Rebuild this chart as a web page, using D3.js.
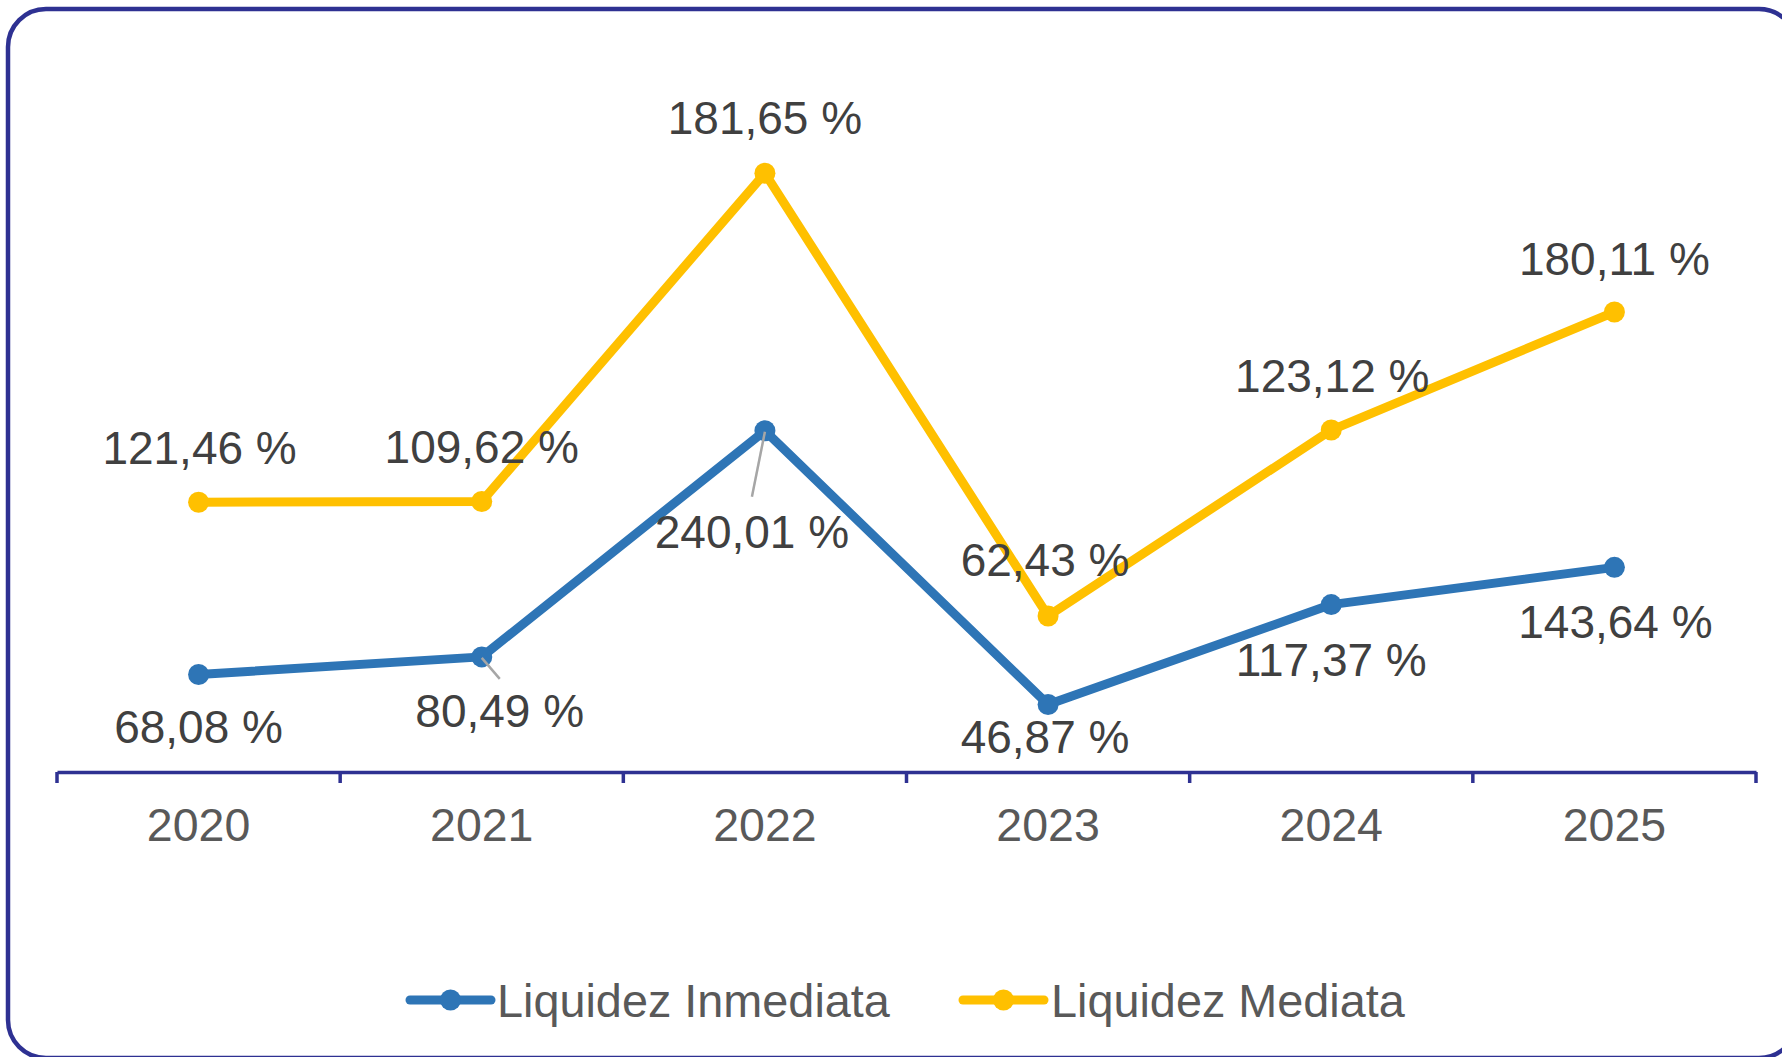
<!DOCTYPE html>
<html>
<head>
<meta charset="utf-8">
<script src="https://cdn.jsdelivr.net/npm/d3@7"></script>
<style>
  html, body { margin: 0; padding: 0; background: #ffffff; }
  svg { display: block; }
  text { font-family: "Liberation Sans", Arial, sans-serif; }
</style>
</head>
<body>
<svg id="chart" width="1782" height="1057"></svg>
<script>
// ---- data ----
const years = ["2020", "2021", "2022", "2023", "2024", "2025"];
const seriesNames = ["Liquidez Inmediata", "Liquidez Mediata"];
const inmediata = [68.08, 80.49, 240.01, 46.87, 117.37, 143.64];
const mediata = [121.46, 109.62, 181.65, 62.43, 123.12, 180.11];
const inmediataLabels = ["68,08 %", "80,49 %", "240,01 %", "46,87 %", "117,37 %", "143,64 %"];
const mediataLabels = ["121,46 %", "109,62 %", "181,65 %", "62,43 %", "123,12 %", "180,11 %"];
const yMax = 450;

// ---- layout (label offsets relative to point, in px) ----
const inmLabelOffsets = [[0, 53], [18, 54], [-13, 101], [-3, 32], [0, 55], [1, 55]];
const medLabelOffsets = [[1, -54], [0, -54], [0, -55], [-3, -56], [1, -54], [0, -53]];
const leaderIdx = [1, 2];

const colors = ["#2E75B6", "#FFC000"];
const frameColor = "#2E3192";

const svg = d3.select("#chart");

// frame
svg.append("rect")
  .attr("x", 8).attr("y", 9)
  .attr("width", 1789).attr("height", 1049)
  .attr("rx", 38).attr("ry", 38)
  .attr("fill", "#ffffff")
  .attr("stroke", frameColor)
  .attr("stroke-width", 4.5);

const x = d3.scaleBand().domain(years).range([57, 1756]).paddingInner(0).paddingOuter(0);
const y = d3.scaleLinear().domain([0, yMax]).range([771, 133]);
const cx = d => x(d) + x.bandwidth() / 2;

// stacked data
const table = years.map((yr, i) => ({ year: yr, a: inmediata[i], b: mediata[i] }));
const stacked = d3.stack().keys(["a", "b"])(table);

// axis
const axisG = svg.append("g").attr("transform", `translate(0,${y(0) + 1})`);
axisG.call(d3.axisBottom(x).tickSizeInner(0).tickSizeOuter(0).tickPadding(0));
axisG.select(".domain").attr("stroke", frameColor).attr("stroke-width", 3.5);
axisG.selectAll(".tick text")
  .attr("font-size", 46.5)
  .attr("fill", "#595959")
  .attr("y", 36)
  .attr("dy", "0.71em")
  .attr("font-family", "'Liberation Sans', Arial, sans-serif");
// tick marks between categories
const boundaries = d3.range(years.length + 1).map(i => x.range()[0] + i * x.step());
axisG.selectAll(".bt").data(boundaries).enter().append("line")
  .attr("x1", d => d).attr("x2", d => d)
  .attr("y1", 0).attr("y2", 11)
  .attr("stroke", frameColor).attr("stroke-width", 3.5);

// lines
const line = d3.line().x(d => cx(d.data.year)).y(d => y(d[1]));
stacked.forEach((s, k) => {
  svg.append("path")
    .datum(s)
    .attr("d", line)
    .attr("fill", "none")
    .attr("stroke", colors[k])
    .attr("stroke-width", 9)
    .attr("stroke-linejoin", "round")
    .attr("stroke-linecap", "round");
});
stacked.forEach((s, k) => {
  svg.selectAll(".m" + k).data(s).enter().append("circle")
    .attr("cx", d => cx(d.data.year))
    .attr("cy", d => y(d[1]))
    .attr("r", 10.5)
    .attr("fill", colors[k]);
});

// leader lines
leaderIdx.forEach(i => {
  const d = stacked[0][i];
  const px = cx(d.data.year), py = y(d[1]);
  const off = inmLabelOffsets[i];
  svg.append("line")
    .attr("x1", px).attr("y1", py + 1)
    .attr("x2", px + off[0])
    .attr("y2", i === 1 ? py + 22 : py + off[1] - 35)
    .attr("stroke", "#A6A6A6").attr("stroke-width", 2.5);
});

// data labels
const labelSets = [[stacked[0], inmediataLabels, inmLabelOffsets], [stacked[1], mediataLabels, medLabelOffsets]];
labelSets.forEach(([s, labels, offs]) => {
  svg.selectAll(null).data(s).enter().append("text")
    .attr("x", (d, i) => cx(d.data.year) + offs[i][0])
    .attr("y", (d, i) => y(d[1]) + offs[i][1] + 16)
    .attr("text-anchor", "middle")
    .attr("font-size", 46)
    .attr("fill", "#404040")
    .text((d, i) => labels[i]);
});

// legend
const legendItems = [
  { name: seriesNames[0], color: colors[0], x0: 410, x1: 491, tx: 497 },
  { name: seriesNames[1], color: colors[1], x0: 963, x1: 1044, tx: 1051 }
];
const ly = 1000;
const lg = svg.append("g");
legendItems.forEach(it => {
  lg.append("line")
    .attr("x1", it.x0).attr("x2", it.x1).attr("y1", ly).attr("y2", ly)
    .attr("stroke", it.color).attr("stroke-width", 9).attr("stroke-linecap", "round");
  lg.append("circle").attr("cx", (it.x0 + it.x1) / 2).attr("cy", ly).attr("r", 10.5).attr("fill", it.color);
  lg.append("text")
    .attr("x", it.tx).attr("y", ly + 16.5)
    .attr("font-size", 46.8).attr("fill", "#595959")
    .text(it.name);
});
</script>
</body>
</html>
